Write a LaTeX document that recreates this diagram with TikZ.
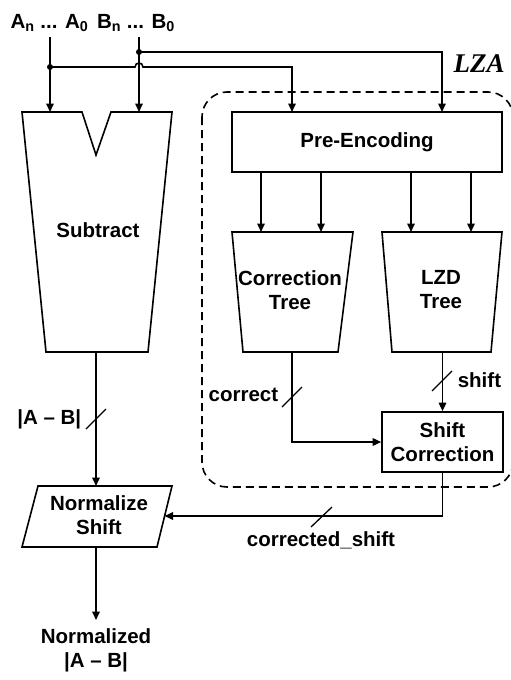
\documentclass[tikz,border=0pt]{standalone}
\usepackage{fontspec}
\setmainfont{Liberation Sans}
\newfontfamily\lzafont{Liberation Serif}
\usetikzlibrary{arrows.meta}
\begin{document}
\begin{tikzpicture}[x=1pt,y=-1pt,line width=1.6pt,
  lbl/.style={font=\fontsize{20.5}{24}\selectfont\bfseries,inner sep=0pt,align=center},
  conn/.style={-{Triangle[length=8.5pt,width=7.5pt]}},
  blk/.style={draw,inner sep=0pt,font=\fontsize{20.5}{24}\selectfont\bfseries,align=center},
  slash/.style={line width=1.3pt}]
\useasboundingbox (0,0) rectangle (511,680);

% inputs
\node[lbl] (ain) at (49.5,23) {A\textsubscript{n} ... A\textsubscript{0}};
\node[lbl] (bin) at (136,23) {B\textsubscript{n} ... B\textsubscript{0}};
\coordinate (asrc) at (50,37);
\coordinate (bsrc) at (139,37);
\coordinate (adot) at (50,67);
\coordinate (bdot) at (139,52);

% LZA region
\draw[dash pattern=on 8pt off 5pt,rounded corners=25pt] (202,92) rectangle (513,487);
\node[font=\lzafont\fontsize{27}{27}\selectfont\bfseries\itshape,inner sep=0pt] (lza) at (479,64) {LZA};

% Subtract
\draw (22,112) -- (82,112) -- (96,155) -- (111,112) -- (172,112) -- (148,352) -- (46,352) -- cycle;
\node[lbl] (sub) at (98,230) {Subtract};
\coordinate (subA) at (50,112);
\coordinate (subB) at (139,112);
\coordinate (subOut) at (96,352);

% Pre-Encoding
\node[blk,minimum width=270pt,minimum height=60pt] (pre) at (367,142) {Pre-Encoding};
\coordinate (preA) at (292,112);
\coordinate (preB) at (442,112);

% trees
\draw (232,232) -- (353,232) -- (338,352) -- (243,352) -- cycle;
\node[lbl] (ctree) at (290,290) {Correction\\Tree};
\draw (382,232) -- (502,232) -- (491,352) -- (392,352) -- cycle;
\node[lbl] (lzd) at (441,290) {LZD\\Tree};
\coordinate (ct1) at (261,232);
\coordinate (ct2) at (321,232);
\coordinate (lz1) at (411,232);
\coordinate (lz2) at (471,232);
\coordinate (ctOut) at (292,352);
\coordinate (lzOut) at (442.5,352);

% Shift Correction
\node[blk,minimum width=121pt,minimum height=60pt] (sc) at (442.5,442) {Shift\\Correction};

% Normalize Shift
\draw (38,486) -- (172,486) -- (157,547) -- (22,547) -- cycle;
\node[lbl] (ns) at (99,515) {Normalize\\Shift};
\coordinate (nsTop) at (96,486);
\coordinate (nsRight) at (164.5,516);
\coordinate (nsBot) at (96,547);
\coordinate (outTip) at (96,620);
\node[lbl] (out) at (96,650) {Normalized\\|A – B|};

% connectors
\draw[conn] (asrc) -- (subA);
\draw[conn] (bsrc) -- (subB);
\draw[conn] (adot) -- (135,67) .. controls (135,61.7) and (143,61.7) .. (143,67) -- (preA |- adot) -- (preA);
\draw[conn] (bdot) -- (preB |- bdot) -- (preB);
\fill (adot) circle[radius=3];
\fill (bdot) circle[radius=3];

\draw[conn] (pre.south -| ct1) -- (ct1);
\draw[conn] (pre.south -| ct2) -- (ct2);
\draw[conn] (pre.south -| lz1) -- (lz1);
\draw[conn] (pre.south -| lz2) -- (lz2);

\draw[conn] (lzOut) -- (sc.north);
\draw[conn] (ctOut) |- (sc.west);
\draw[conn] (subOut) -- (nsTop);
\draw[conn] (sc.south) |- (nsRight);
\draw[conn] (nsBot) -- (outTip);

% bus slashes
\draw[slash] (86,429) -- (106,409);
\draw[slash] (282,407) -- (302,387);
\draw[slash] (432,391) -- (452,371);
\draw[slash] (311,527) -- (332,507);

% labels
\node[lbl,anchor=east] (lab) at (82,419) {|A – B|};
\node[lbl,anchor=east] (lcor) at (279,395) {correct};
\node[lbl,anchor=west] (lshift) at (457,380) {shift};
\node[lbl] (lcs) at (321,540) {corrected\_shift};
\end{tikzpicture}
\end{document}
